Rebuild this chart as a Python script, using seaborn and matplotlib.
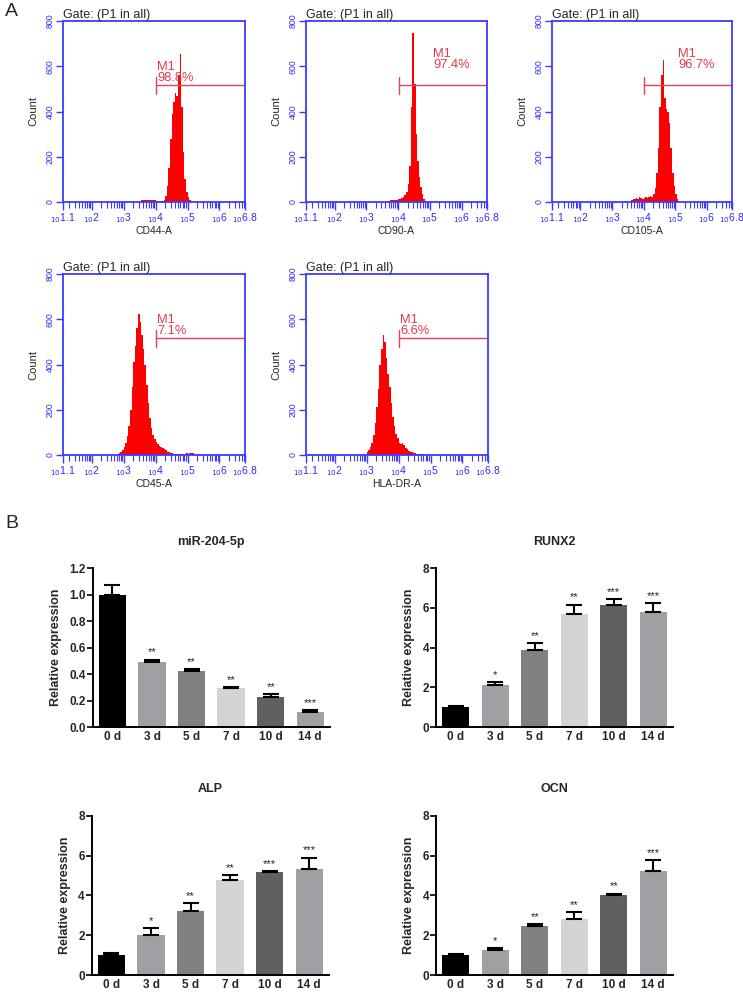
import numpy as np
import pandas as pd
import matplotlib
matplotlib.use('Agg')
import matplotlib.pyplot as plt
import seaborn as sns

sns.set_style('white')
plt.rcParams['font.family'] = ['Liberation Sans', 'DejaVu Sans']

# ---------------- data: flow cytometry histograms ----------------
hist_markers = ['CD44-A', 'CD90-A', 'CD105-A', 'CD45-A', 'HLA-DR-A']
gate_pct = ['98.8%', '97.4%', '96.7%', '7.1%', '6.6%']
bin_width = 0.05
hist_start = [3.55, 3.65, 3.60, 2.80, 2.95]
cd44_counts = [8, 10, 10, 9, 10, 10, 9, 10, 9, 6, 4, 4, 5, 6, 8, 25, 70, 150, 280, 390,
               440, 480, 470, 560, 655, 420, 220, 100, 45, 20, 8, 3]
cd90_counts = [5, 6, 8, 7, 9, 10, 8, 12, 15, 18, 22, 30, 45, 80, 160, 420, 745, 520, 300,
               180, 110, 65, 35, 12, 4]
cd105_counts = [10, 15, 12, 18, 15, 20, 16, 14, 18, 22, 16, 20, 25, 22, 35, 60, 130, 240,
                420, 560, 628, 460, 410, 400, 350, 240, 130, 70, 35, 12, 4]
cd45_counts = [4, 8, 15, 22, 35, 55, 85, 130, 200, 300, 410, 480, 560, 625, 590, 530, 470,
               400, 310, 230, 165, 120, 90, 70, 58, 48, 40, 35, 30, 26, 20, 15, 12, 10, 8,
               6, 4, 3, 3, 5, 6, 5, 6, 7, 5, 8, 10, 7, 4, 3, 3, 2]
hla_counts = [5, 12, 22, 35, 55, 90, 140, 210, 290, 400, 470, 530, 500, 430, 360, 300, 230,
              170, 130, 95, 75, 55, 48, 52, 45, 32, 25, 18, 15, 12, 10, 8, 6, 5, 4, 3, 3, 2,
              2, 3, 2, 2, 3, 2]
hist_counts = [cd44_counts, cd90_counts, cd105_counts, cd45_counts, hla_counts]
gate_start = 4.02
gate_level = 515
hist_xticks = [1.1, 2, 3, 4, 5, 6, 6.8]
hist_xticklabels = ['1.1', '2', '3', '4', '5', '6', '6.8']
hist_yticks = [0, 200, 400, 600, 800]

# ---------------- data: qPCR bar charts ----------------
days = ['0 d', '3 d', '5 d', '7 d', '10 d', '14 d']
mir_vals = [1.0, 0.49, 0.42, 0.295, 0.228, 0.117]
mir_err = [0.075, 0.02, 0.02, 0.007, 0.022, 0.012]
mir_sig = ['', '**', '**', '**', '**', '***']
runx2_vals = [1.0, 2.13, 3.9, 5.72, 6.13, 5.8]
runx2_err = [0.04, 0.15, 0.35, 0.45, 0.33, 0.45]
runx2_sig = ['', '*', '**', '**', '***', '***']
alp_vals = [1.02, 2.0, 3.2, 4.75, 5.15, 5.3]
alp_err = [0.06, 0.35, 0.4, 0.25, 0.07, 0.6]
alp_sig = ['', '*', '**', '**', '***', '***']
ocn_vals = [1.0, 1.25, 2.48, 2.83, 4.03, 5.2]
ocn_err = [0.05, 0.09, 0.06, 0.32, 0.06, 0.57]
ocn_sig = ['', '*', '**', '**', '**', '***']
bar_colors = ['#000000', '#a0a0a4', '#808080', '#d4d4d4', '#606060', '#a0a0a4']

W, H = 743, 992
fig = plt.figure(figsize=(W / 100, H / 100), dpi=100)


def box(x0, x1, ytop, ybot):
    return [x0 / W, 1 - ybot / H, (x1 - x0) / W, (ybot - ytop) / H]


blue = '#3b3bff'
red_line = '#e8425a'
red_text = '#e23a48'

hist_boxes = [box(63, 245, 21, 202), box(306, 487, 21, 202), box(552, 732, 21, 202),
              box(63, 245, 274, 455), box(306, 488, 274, 455)]
text_pos = [(4.05, 522), (5.1, 577), (5.1, 577), (4.05, 522), (4.05, 522)]

minor = [n + np.log10(k) for n in range(1, 7) for k in range(2, 10)]
minor = [m for m in minor if 1.1 < m < 6.8]

for i in range(5):
    ax = fig.add_axes(hist_boxes[i])
    counts = np.array(hist_counts[i], dtype=float)
    n = len(counts)
    lo = hist_start[i]
    centers = lo + bin_width * (np.arange(n) + 0.5)
    hdf = pd.DataFrame({'logx': centers, 'count': counts})
    sns.histplot(data=hdf, x='logx', weights='count', binwidth=bin_width,
                 binrange=(lo, lo + bin_width * n), element='step', fill=True,
                 color='#ff0000', alpha=1, linewidth=0, ax=ax)
    ax.set_xlim(1.1, 6.8)
    ax.set_ylim(0, 800)
    for s in ax.spines.values():
        s.set_color(blue)
        s.set_linewidth(1.3)
    ax.set_xticks(hist_xticks)
    ax.set_xticklabels([r'${}_{10}$' + t for t in hist_xticklabels], color='#2a2aff',
                       fontsize=7.5)
    ax.set_xticks(minor, minor=True)
    ax.set_yticks(hist_yticks)
    ax.set_yticklabels([str(v) for v in hist_yticks], rotation=90, va='center',
                       color='#2a2aff', fontsize=6.3)
    ax.tick_params(axis='x', which='major', length=6, width=1.0, color=blue, pad=0.5,
                   direction='out', bottom=True)
    ax.tick_params(axis='x', which='minor', length=4, width=0.8, color=blue,
                   direction='out', bottom=True)
    ax.tick_params(axis='y', length=5, width=1.0, color=blue, pad=1, direction='out',
                   left=True)
    ax.set_xlabel(hist_markers[i], fontsize=7.5, labelpad=1)
    ax.set_ylabel('Count', fontsize=8, labelpad=5)
    ax.set_title('Gate: (P1 in all)', fontsize=9, loc='left', pad=1.5)
    # gate marker
    ax.plot([gate_start, 6.8], [gate_level, gate_level], color=red_line, lw=1.0)
    ax.plot([gate_start, gate_start], [gate_level - 38, gate_level + 38], color=red_line,
            lw=1.0)
    tx, ty = text_pos[i]
    ax.text(tx, ty, 'M1\n' + gate_pct[i], color=red_text, fontsize=9.3, va='bottom',
            ha='left', linespacing=0.9)

fig.text(5 / W, 1 - 12 / H, 'A', fontsize=14, va='center', ha='left')
fig.text(5 / W, 1 - 524 / H, 'B', fontsize=14, va='center', ha='left')

# ---------------- bar charts ----------------
bar_sets = [
    ('miR-204-5p', mir_vals, mir_err, mir_sig, 1.2, [0.0, 0.2, 0.4, 0.6, 0.8, 1.0, 1.2],
     '{:.1f}', box(92.7, 330, 568.3, 727)),
    ('RUNX2', runx2_vals, runx2_err, runx2_sig, 8, [0, 2, 4, 6, 8], '{:d}',
     box(436, 673, 568.3, 727)),
    ('ALP', alp_vals, alp_err, alp_sig, 8, [0, 2, 4, 6, 8], '{:d}',
     box(91.7, 329, 815.7, 975)),
    ('OCN', ocn_vals, ocn_err, ocn_sig, 8, [0, 2, 4, 6, 8], '{:d}',
     box(436, 673, 815.7, 975)),
]

for title, vals, errs, sig, ymax, yt, fmt, bx in bar_sets:
    ax = fig.add_axes(bx)
    df = pd.DataFrame({'day': days, 'value': vals})
    sns.barplot(data=df, x='day', y='value', hue='day', palette=bar_colors, legend=False,
                width=0.69, saturation=1, errorbar=None, ax=ax, linewidth=0)
    ax.errorbar(np.arange(len(days)), vals, yerr=[np.zeros(len(errs)), errs], fmt='none',
                ecolor='black', elinewidth=1.5, capsize=5.5, capthick=1.5)
    for j, s in enumerate(sig):
        if s:
            ax.annotate(s, (j, vals[j] + errs[j]), xytext=(0, 1.5),
                        textcoords='offset points', ha='center', va='bottom',
                        fontsize=8, color='#222222')
    ax.set_xlim(-0.5, 5.5)
    ax.set_ylim(0, ymax)
    ax.set_yticks(yt)
    ax.set_yticklabels([fmt.format(v) for v in yt], fontsize=8.5, fontweight='bold')
    ax.set_xticks(range(len(days)))
    ax.set_xticklabels(days, fontsize=8.5, fontweight='bold')
    ax.tick_params(axis='y', length=4, width=1.4, direction='out', left=True, pad=1)
    ax.tick_params(axis='x', length=0, pad=3)
    for side in ['top', 'right']:
        ax.spines[side].set_visible(False)
    for side in ['left', 'bottom']:
        ax.spines[side].set_color('black')
        ax.spines[side].set_linewidth(1.4)
    ax.set_xlabel('')
    ax.set_ylabel('Relative expression', fontsize=9, fontweight='bold', labelpad=5)
    ax.set_title(title, fontsize=9, fontweight='bold', pad=17)

fig.savefig('out.png', dpi=100)
